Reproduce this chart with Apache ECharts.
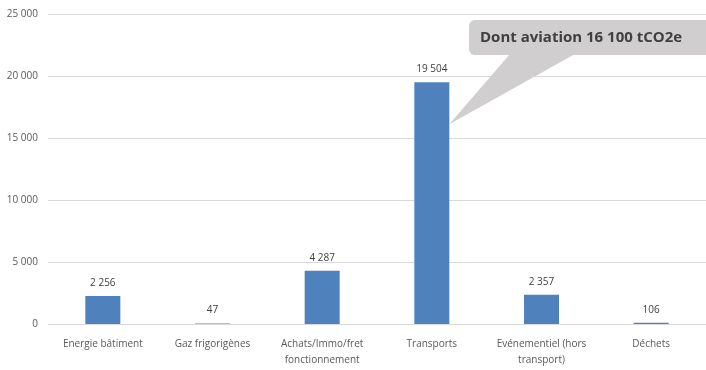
<!DOCTYPE html>
<html><head><meta charset="utf-8">
<script src="https://cdn.jsdelivr.net/npm/echarts@6/dist/echarts.min.js"></script>
<style>html,body{margin:0;padding:0;background:#fff}#c{width:706px;height:370px}</style>
</head><body><div id="c"></div>
<script>
const categories = ["Energie bâtiment","Gaz frigorigènes","Achats/Immo/fret\nfonctionnement","Transports","Evénementiel (hors\ntransport)","Déchets"];
const values = [2256, 47, 4287, 19504, 2357, 106];
const calloutText = "Dont aviation 16 100 tCO2e";
const calloutValue = 16100;
const calloutCategory = "Transports";

function fmt(v){ return String(Math.round(v)).replace(/\B(?=(\d{3})+(?!\d))/g,' '); }

const chart = echarts.init(document.getElementById('c'));
const font = "'Open Sans', sans-serif";
chart.setOption({
  animation:false,
  grid:{left:48,right:0,top:14,bottom:46},
  xAxis:{type:'category',data:categories,
    axisLine:{show:false},axisTick:{show:false},
    axisLabel:{color:'#595959',fontFamily:font,fontSize:10,margin:12,lineHeight:16,interval:0}},
  yAxis:{type:'value',min:0,max:25000,interval:5000,
    axisLabel:{color:'#595959',fontFamily:font,fontSize:10,margin:10,formatter:fmt},
    splitLine:{lineStyle:{color:'#d9d9d9'}}},
  series:[{type:'bar',data:values,barWidth:35,itemStyle:{color:'#4f81bd'},
    label:{show:true,position:'top',distance:8,color:'#404040',fontFamily:font,fontSize:10,formatter:p=>fmt(p.value)}}]
});
const idx = categories.indexOf(calloutCategory);
const tip = chart.convertToPixel({seriesIndex:0},[idx,calloutValue]);
const tipX = tip[0]+17.5, tipY = tip[1];
chart.setOption({graphic:[
  {type:'polygon',shape:{points:[[510,54],[575,54],[tipX,tipY]]},style:{fill:'#d0cece'}},
  {type:'rect',shape:{x:469,y:20,width:250,height:35,r:6},style:{fill:'#d0cece'}},
  {type:'text',x:480,y:37.5,style:{text:calloutText,fill:'#404040',font:"bold 15px 'Open Sans', sans-serif",verticalAlign:'middle'}}
]});
</script></body></html>
